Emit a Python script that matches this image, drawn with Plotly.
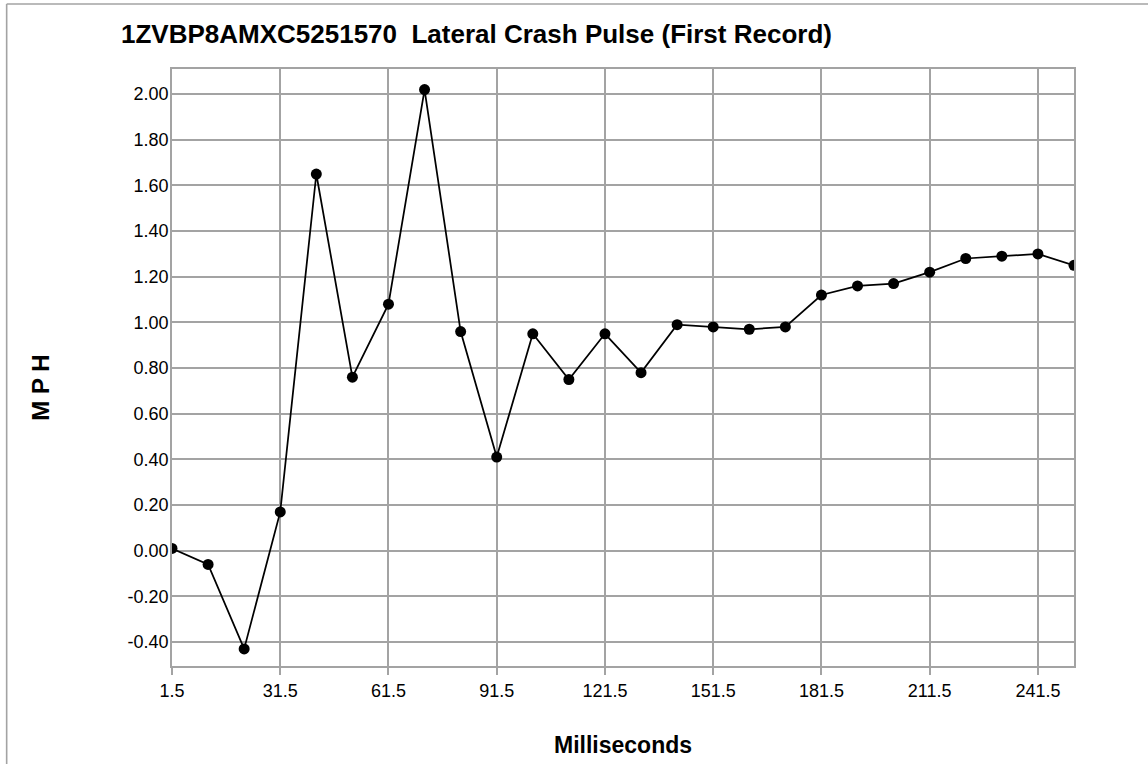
import plotly.graph_objects as go

# ---- data ----
time_ms = [1.5, 11.5, 21.5, 31.5, 41.5, 51.5, 61.5, 71.5, 81.5, 91.5,
           101.5, 111.5, 121.5, 131.5, 141.5, 151.5, 161.5, 171.5, 181.5,
           191.5, 201.5, 211.5, 221.5, 231.5, 241.5, 251.5]
mph = [0.01, -0.06, -0.43, 0.17, 1.65, 0.76, 1.08, 2.02, 0.96, 0.41,
       0.95, 0.75, 0.95, 0.78, 0.99, 0.98, 0.97, 0.98, 1.12,
       1.16, 1.17, 1.22, 1.28, 1.29, 1.30, 1.25]
x_tick_vals = [1.5, 31.5, 61.5, 91.5, 121.5, 151.5, 181.5, 211.5, 241.5]
x_tick_text = ["1.5", "31.5", "61.5", "91.5", "121.5", "151.5", "181.5", "211.5", "241.5"]
y_tick_vals = [-0.4, -0.2, 0.0, 0.2, 0.4, 0.6, 0.8, 1.0, 1.2, 1.4, 1.6, 1.8, 2.0]
y_tick_text = ["-0.40", "-0.20", "0.00", "0.20", "0.40", "0.60", "0.80", "1.00",
               "1.20", "1.40", "1.60", "1.80", "2.00"]
title_text = "1ZVBP8AMXC5251570  Lateral Crash Pulse (First Record)"
x_title = "Milliseconds"
y_title = "M P H"

FONT = "Liberation Sans, Arial, sans-serif"
GRID = "#a3a3a3"

fig = go.Figure()
fig.add_trace(go.Scatter(
    x=time_ms, y=mph, mode="lines+markers",
    line=dict(color="black", width=1.75),
    marker=dict(color="black", size=11, symbol="circle"),
    hoverinfo="x+y", showlegend=False,
))

fig.update_layout(
    width=1148, height=764,
    margin=dict(l=172, r=74, t=69, b=98, pad=0),
    paper_bgcolor="white", plot_bgcolor="white",
    font=dict(family=FONT, size=18, color="black"),
    showlegend=False,
    xaxis=dict(
        range=[1.5, 251.5], tickmode="array", tickvals=x_tick_vals, ticktext=x_tick_text,
        showgrid=True, gridcolor=GRID, gridwidth=1.6,
        showline=True, linecolor=GRID, linewidth=1.6, mirror=True,
        ticks="outside", ticklen=7, tickcolor=GRID, tickwidth=1.6,
        ticklabelstandoff=1, zeroline=False,
        tickfont=dict(family=FONT, size=18, color="black"),
    ),
    yaxis=dict(
        range=[-0.505, 2.11], tickmode="array", tickvals=y_tick_vals, ticktext=y_tick_text,
        showgrid=True, gridcolor=GRID, gridwidth=1.6,
        showline=True, linecolor=GRID, linewidth=1.6, mirror=True,
        ticks="", ticklabelstandoff=-2, zeroline=False,
        tickfont=dict(family=FONT, size=18, color="black"),
    ),
    annotations=[
        dict(text="<b>%s</b>" % title_text, xref="paper", yref="paper",
             x=-0.0589, y=1.0578, xanchor="left", yanchor="middle", showarrow=False,
             font=dict(family=FONT, size=26, color="black")),
        dict(text="<b>%s</b>" % x_title, xref="paper", yref="paper",
             x=0.5, y=-0.1323, xanchor="center", yanchor="middle", showarrow=False,
             font=dict(family=FONT, size=23, color="black")),
        dict(text="<b>%s</b>" % y_title, xref="paper", yref="paper",
             x=-0.1456, y=0.4657, xanchor="center", yanchor="middle", showarrow=False,
             textangle=-90, font=dict(family=FONT, size=24, color="black")),
    ],
    shapes=[
        dict(type="line", xref="paper", yref="paper", x0=-0.1833, x1=-0.1833,
             y0=-0.3, y1=1.1089, line=dict(color=GRID, width=1.6)),
        dict(type="line", xref="paper", yref="paper", x0=-0.1833, x1=1.2,
             y0=1.1089, y1=1.1089, line=dict(color=GRID, width=1.6)),
    ],
)

fig.write_html("out.html", include_plotlyjs=True,
               config={"displayModeBar": False},
               post_script="document.body.style.margin='0';document.body.style.overflow='hidden';")
